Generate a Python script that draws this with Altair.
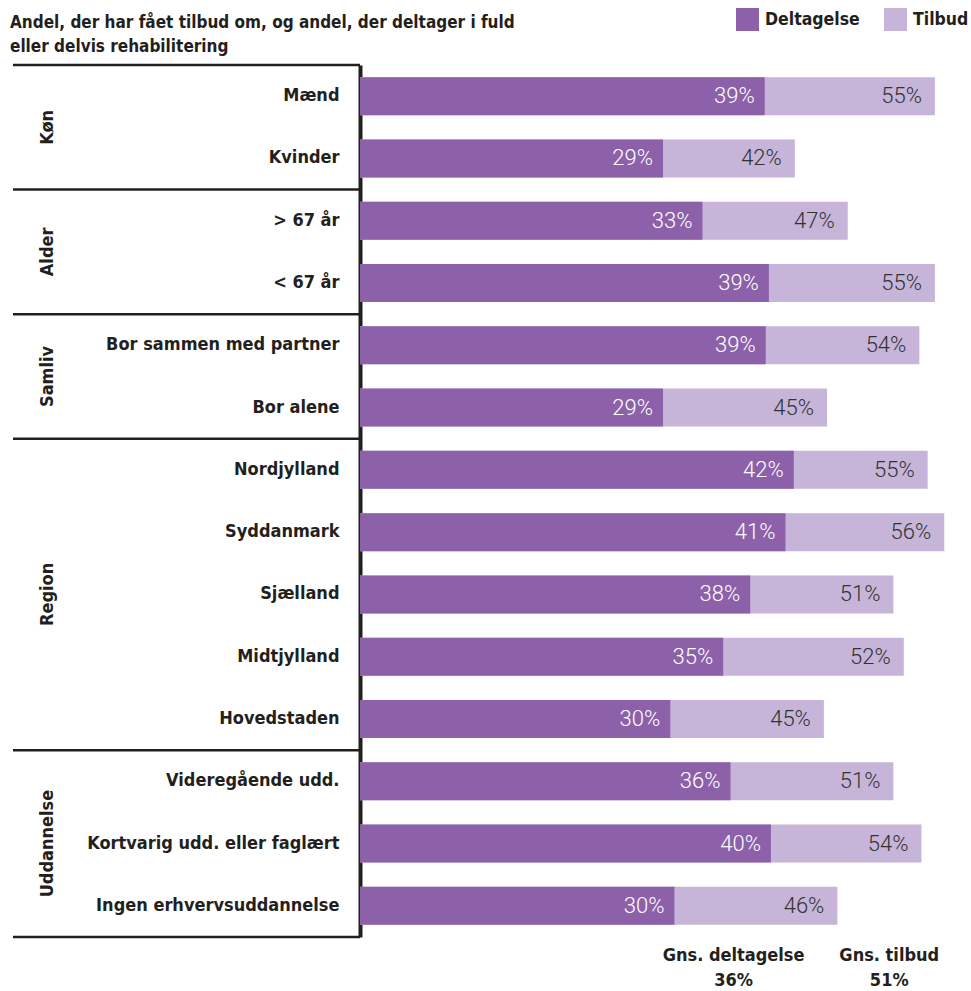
import altair as alt
import pandas as pd

# ---------------- data ----------------
groups = ["Køn", "Alder", "Samliv", "Region", "Uddannelse"]
group_sizes = [2, 2, 2, 5, 3]
categories = [
    "Mænd", "Kvinder",
    "> 67 år", "< 67 år",
    "Bor sammen med partner", "Bor alene",
    "Nordjylland", "Syddanmark", "Sjælland", "Midtjylland", "Hovedstaden",
    "Videregående udd.", "Kortvarig udd. eller faglært", "Ingen erhvervsuddannelse",
]
deltagelse = [39.0, 29.2, 33.0, 39.4, 39.1, 29.2, 41.8, 41.0, 37.6, 35.0, 29.9, 35.7, 39.6, 30.3]
tilbud = [55.4, 41.9, 47.0, 55.4, 53.9, 45.0, 54.7, 56.3, 51.4, 52.4, 44.7, 51.4, 54.1, 46.0]
series_names = ["Deltagelse", "Tilbud"]
avg_labels = ["Gns. deltagelse", "Gns. tilbud"]
avg_values = [36, 51]
title_lines = [
    "Andel, der har fået tilbud om, og andel, der deltager i fuld",
    "eller delvis rehabilitering",
]

# ---------------- tables ----------------
long_rows = []
for c, d, t in zip(categories, deltagelse, tilbud):
    long_rows.append({"category": c, "series": "Deltagelse", "value": d})
    long_rows.append({"category": c, "series": "Tilbud", "value": t})
long_df = pd.DataFrame(long_rows)

starts = []
acc = 0
for s in group_sizes:
    starts.append(acc)
    acc += s
group_df = pd.DataFrame({
    "group": groups,
    "mid": [st + s / 2 for st, s in zip(starts, group_sizes)],
})
bounds_df = pd.DataFrame({"pos": starts + [acc]})
avg_df = pd.DataFrame({"label": avg_labels, "value": avg_values})
title_df = pd.DataFrame({"text": ["\n".join(title_lines)]})

# ---------------- style ----------------
FONT = "DejaVu Sans Condensed, Liberation Sans Narrow, sans-serif"
NUMFONT = "Roboto Light, Roboto, Lato Light, Lato, sans-serif"
DARK = "#231f20"
PURPLE = "#8c61a9"
LILAC = "#c6b5d9"
FS = 18
W, H = 605, 872
XMAX = 58.3
N = len(categories)

xscale = alt.Scale(domain=[0, XMAX], nice=False, zero=True)
x = alt.X("value:Q", scale=xscale, axis=None)
y = alt.Y(
    "category:N", sort=categories,
    scale=alt.Scale(paddingInner=0, paddingOuter=0),
    axis=alt.Axis(
        title=None, labelFont=FONT, labelFontSize=FS, labelFontWeight="bold",
        labelColor=DARK, labelPadding=21, labelLimit=400, ticks=False, tickSize=0,
        domainColor=DARK, domainWidth=4, grid=False,
    ),
)
color = alt.Color(
    "series:N",
    scale=alt.Scale(domain=series_names, range=[PURPLE, LILAC]),
    legend=alt.Legend(
        title=None, orient="none", legendX=376, legendY=-57, direction="horizontal",
        symbolType="square", symbolSize=529, symbolStrokeWidth=0, symbolOpacity=1,
        labelFont=FONT, labelFontSize=17.5, labelFontWeight="bold", labelColor=DARK,
        labelOffset=6, columnPadding=24, padding=0,
    ),
)

base = alt.Chart(long_df)
bars_t = base.transform_filter(alt.datum.series == "Tilbud").mark_bar(
    height={"band": 0.61}).encode(x=x, y=y, color=color)
bars_d = base.transform_filter(alt.datum.series == "Deltagelse").mark_bar(
    height={"band": 0.61}).encode(x=x, y=y, color=color)

lab = "format(datum.value, '.0f') + '%'"
text_d = base.transform_filter(alt.datum.series == "Deltagelse").transform_calculate(
    label=lab).mark_text(
    align="right", baseline="middle", dx=-10, font=NUMFONT, fontSize=22,
    fontWeight=300, color="white").encode(x=x, y=y, text="label:N")
text_t = base.transform_filter(alt.datum.series == "Tilbud").transform_calculate(
    label=lab).mark_text(
    align="right", baseline="middle", dx=-13, font=NUMFONT, fontSize=22,
    fontWeight=300, color="#333333").encode(x=x, y=y, text="label:N")

avg_text = alt.Chart(avg_df).transform_calculate(
    txt="datum.label + '\\n' + format(datum.value, '.0f') + '%'").mark_text(
    align="center", baseline="alphabetic", lineBreak="\n", lineHeight=25,
    font=FONT, fontSize=FS, fontWeight="bold", color=DARK).encode(
    x=alt.X("value:Q", scale=xscale, axis=None), y=alt.value(896), text="txt:N")

inner = alt.layer(bars_t, bars_d, text_d, text_t, avg_text)

qscale = alt.Scale(domain=[0, N], reverse=True, nice=False, zero=False)
rules = alt.Chart(bounds_df).mark_rule(color=DARK, strokeWidth=2.5).encode(
    y=alt.Y("pos:Q", scale=qscale, axis=None),
    x=alt.value(-347), x2=alt.value(0))
gtext = alt.Chart(group_df).mark_text(
    angle=270, align="center", baseline="alphabetic", font=FONT, fontSize=FS,
    fontWeight="bold", color=DARK).encode(
    y=alt.Y("mid:Q", scale=qscale, axis=None), x=alt.value(-307), text="group:N")
title_text = alt.Chart(title_df).mark_text(
    align="left", baseline="alphabetic", lineBreak="\n", lineHeight=24,
    font=FONT, fontSize=17, fontWeight="bold", color=DARK).encode(
    x=alt.value(-350), y=alt.value(-37), text="text:N")
deco = alt.layer(rules, gtext, title_text)

chart = alt.layer(deco, inner).resolve_scale(y="independent").properties(
    width=W, height=H,
    autosize=alt.AutoSizeParams(type="none"),
    padding={"left": 360, "top": 65, "right": 6, "bottom": 54},
    background="white",
).configure_view(stroke=None)

chart.save("out.html", embed_options={"renderer": "svg", "actions": False})
